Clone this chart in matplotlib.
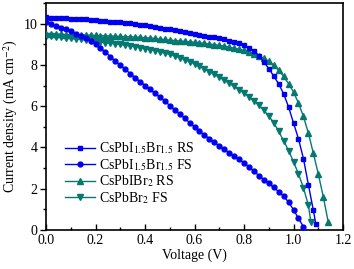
import numpy as np
import matplotlib
matplotlib.use("Agg")
import matplotlib.pyplot as plt
from matplotlib.ticker import MultipleLocator

plt.rcParams['font.family'] = ['Liberation Serif', 'DejaVu Serif']
plt.rcParams['mathtext.fontset'] = 'stix'

# voltage sweep grid (V), 20 mV steps
V = np.round(np.arange(0.0, 1.141, 0.02), 2)

# CsPbI1.5Br1.5 reverse scan
j_ibr_rs = [10.30, 10.29, 10.28, 10.27, 10.25, 10.24, 10.23, 10.21, 10.20, 10.18,
            10.16, 10.14, 10.12, 10.10, 10.08, 10.06, 10.04, 10.01, 9.98, 9.95,
            9.92, 9.88, 9.84, 9.80, 9.76, 9.72, 9.68, 9.63, 9.59, 9.55,
            9.50, 9.46, 9.42, 9.37, 9.33, 9.28, 9.23, 9.17, 9.11, 9.04,
            8.96, 8.84, 8.68, 8.45, 8.14, 7.82, 7.46, 7.08, 6.60, 5.96,
            5.18, 4.42, 3.46, 2.20, 0.96]
v_ibr_rs_end = [1.09]
j_ibr_rs_end = [0.30]

# CsPbI1.5Br1.5 forward scan
j_ibr_fs = [10.06, 9.98, 9.90, 9.81, 9.72, 9.62, 9.51, 9.40, 9.28, 9.15,
            9.00, 8.82, 8.62, 8.40, 8.18, 7.98, 7.78, 7.58, 7.38, 7.19,
            7.00, 6.82, 6.62, 6.43, 6.24, 6.03, 5.82, 5.62, 5.42, 5.20,
            5.00, 4.80, 4.60, 4.42, 4.25, 4.08, 3.91, 3.74, 3.58, 3.42,
            3.25, 3.05, 2.84, 2.64, 2.44, 2.26, 2.06, 1.86, 1.64, 1.35,
            0.98, 0.56, 0.16]

# CsPbIBr2 reverse scan
j_ibr2_rs = [9.50, 9.49, 9.49, 9.48, 9.47, 9.47, 9.46, 9.45, 9.45, 9.44,
             9.43, 9.42, 9.41, 9.40, 9.39, 9.38, 9.37, 9.36, 9.35, 9.34,
             9.32, 9.30, 9.28, 9.25, 9.23, 9.20, 9.18, 9.16, 9.14, 9.12,
             9.10, 9.07, 9.04, 9.01, 8.98, 8.95, 8.91, 8.86, 8.81, 8.76,
             8.70, 8.62, 8.53, 8.43, 8.31, 8.17, 7.98, 7.74, 7.44, 7.09,
             6.68, 6.15, 5.50, 4.70, 3.72, 2.72, 1.62, 0.40]

# CsPbBr2 forward scan
j_br2_fs = [9.40, 9.38, 9.36, 9.34, 9.31, 9.28, 9.26, 9.23, 9.20, 9.17,
            9.14, 9.11, 9.08, 9.05, 9.02, 8.99, 8.95, 8.92, 8.88, 8.84,
            8.79, 8.74, 8.69, 8.63, 8.57, 8.51, 8.43, 8.35, 8.26, 8.16,
            8.05, 7.93, 7.80, 7.67, 7.54, 7.40, 7.26, 7.11, 6.96, 6.80,
            6.64, 6.46, 6.26, 6.04, 5.80, 5.52, 5.20, 4.78, 4.32, 3.85,
            3.30, 2.72, 2.05, 1.20]
v_br2_fs_end = [1.07]
j_br2_fs_end = [0.40]

labels = [r"CsPbI$_{1.5}$Br$_{1.5}$ RS", r"CsPbI$_{1.5}$Br$_{1.5}$ FS",
          r"CsPbIBr$_2$ RS", r"CsPbBr$_2$ FS"]

blue = '#0000f0'
teal = '#057872'

fig = plt.figure(figsize=(3.54, 2.69), dpi=100)
ax = fig.add_axes([0.130, 0.145, 0.839, 0.844])

v1 = list(V[:len(j_ibr_rs)]) + v_ibr_rs_end
ax.plot(v1, j_ibr_rs + j_ibr_rs_end, '-s', color=blue, ms=3.5, lw=1.0,
        label=labels[0], zorder=5)
ax.plot(V[:len(j_ibr_fs)], j_ibr_fs, '-o', color=blue, ms=3.5, lw=1.0,
        label=labels[1], zorder=4)
ax.plot(V[:len(j_ibr2_rs)], j_ibr2_rs, '-^', color=teal, ms=3.8, lw=1.0,
        label=labels[2], zorder=3)
v4 = list(V[:len(j_br2_fs)]) + v_br2_fs_end
ax.plot(v4, j_br2_fs + j_br2_fs_end, '-v', color=teal, ms=3.8, lw=1.0,
        label=labels[3], zorder=2)

ax.set_xlim(0, 1.2)
ax.set_ylim(0, 11)
ax.xaxis.set_major_locator(MultipleLocator(0.2))
ax.xaxis.set_minor_locator(MultipleLocator(0.1))
ax.yaxis.set_major_locator(MultipleLocator(2))
ax.yaxis.set_minor_locator(MultipleLocator(1))
ax.xaxis.set_major_formatter(plt.FuncFormatter(lambda x, p: "{:.1f}".format(x)))
ax.tick_params(axis='x', which='major', direction='in', length=4, width=1, labelsize=10, pad=3)
ax.tick_params(axis='x', which='minor', direction='in', length=2.5, width=1)
ax.tick_params(axis='y', which='major', direction='out', length=4, width=1, labelsize=10, pad=2)
ax.tick_params(axis='y', which='minor', direction='out', length=2.5, width=1)
for s in ax.spines.values():
    s.set_linewidth(1.2)

ax.set_xlabel("Voltage (V)", fontsize=10, labelpad=1)
ax.set_ylabel(r"Current density (mA cm$^{-2}$)", fontsize=10, labelpad=3)

ax.legend(loc='lower left', bbox_to_anchor=(0.035, 0.07), frameon=False,
          fontsize=10, handlelength=2.2, handletextpad=0.3, labelspacing=0.05,
          borderaxespad=0.2)

fig.savefig("out.png", dpi=100)
